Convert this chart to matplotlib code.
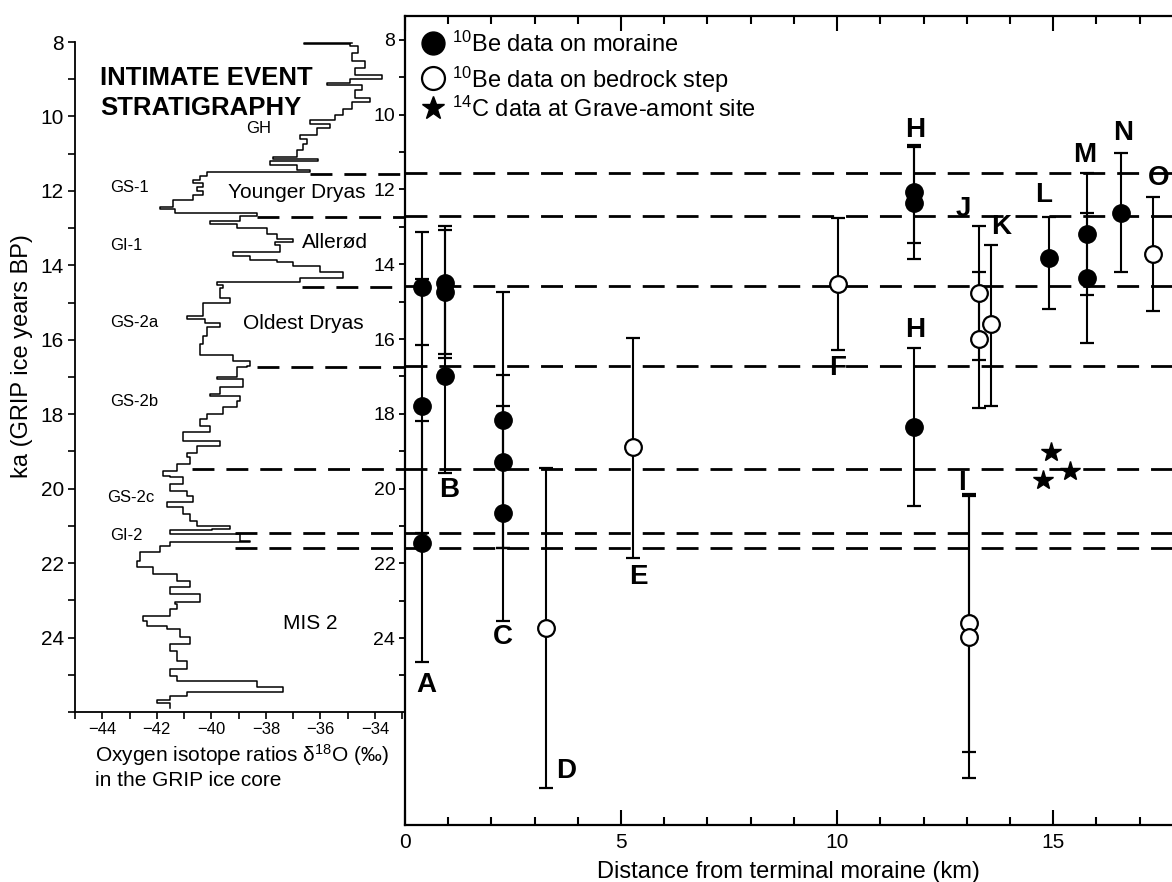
import matplotlib
matplotlib.use('Agg')
import matplotlib.pyplot as plt
from matplotlib.ticker import FixedLocator, FixedFormatter

plt.rcParams['font.family'] = ['Liberation Sans', 'DejaVu Sans']
plt.rcParams['mathtext.fontset'] = 'custom'
plt.rcParams['mathtext.rm'] = 'Liberation Sans'
plt.rcParams['mathtext.it'] = 'Liberation Sans:italic'
plt.rcParams['mathtext.bf'] = 'Liberation Sans:bold'

# ---------------- GRIP d18O record (age ka, d18O permil) ----------------
grip_age = [8.03, 8.06, 8.1, 8.3, 8.5, 8.7, 8.9, 9.0, 9.1, 9.15, 9.3, 9.5, 9.6, 9.8,
            9.95, 10.1, 10.2, 10.3, 10.5, 10.6, 10.75, 10.9, 11.1, 11.15, 11.2, 11.3,
            11.43, 11.48, 11.6, 11.7, 11.8, 11.9, 12.0, 12.1, 12.25, 12.42, 12.5, 12.6,
            12.67, 12.8, 12.9, 13.0, 13.17, 13.3, 13.36, 13.45, 13.63, 13.76, 13.85,
            13.9, 14.03, 14.17, 14.33, 14.46, 14.52, 14.6, 14.87, 15.0, 15.13, 15.37,
            15.45, 15.55, 15.65, 15.9, 16.12, 16.4, 16.58, 16.7, 16.74, 17.0, 17.05,
            17.28, 17.46, 17.5, 17.65, 17.8, 18.0, 18.13, 18.32, 18.48, 18.72, 18.86,
            19.03, 19.15, 19.34, 19.53, 19.66, 19.69, 19.87, 20.06, 20.2, 20.36, 20.5,
            20.68, 20.87, 21.0, 21.08, 21.12, 21.22, 21.4, 21.43, 21.53, 21.7, 21.94,
            22.1, 22.29, 22.48, 22.64, 22.83, 23.04, 23.1, 23.23, 23.42, 23.55, 23.68,
            23.76, 23.98, 24.17, 24.35, 24.62, 24.84, 25.02, 25.18, 25.32, 25.45, 25.56,
            25.69, 25.77, 25.9]
grip_d18o = [-34.85, -36.61, -34.93, -34.63, -34.85, -34.38, -34.74, -33.75, -34.93,
             -35.77, -34.49, -34.74, -34.19, -34.85, -35.18, -35.48, -36.39, -35.66,
             -36.14, -36.76, -36.50, -36.65, -36.87, -37.75, -36.10, -37.86, -36.87,
             -36.39, -40.16, -40.42, -40.68, -40.31, -40.53, -40.31, -40.68, -41.41,
             -41.89, -41.34, -38.33, -38.96, -40.05, -39.07, -37.97, -37.60, -37.01,
             -37.67, -37.49, -39.21, -38.59, -37.60, -37.01, -36.03, -35.18, -36.76,
             -39.80, -39.58, -39.69, -39.32, -40.31, -40.31, -40.90, -40.24, -39.69,
             -40.16, -40.31, -40.42, -39.21, -38.59, -38.70, -39.07, -39.80, -38.85,
             -39.69, -40.05, -38.96, -39.07, -39.58, -40.16, -40.42, -40.05, -41.04,
             -39.69, -40.53, -40.90, -40.79, -41.26, -41.78, -41.52, -41.04, -41.52,
             -40.90, -40.68, -41.63, -41.04, -40.79, -40.53, -39.32, -39.98, -41.52,
             -38.96, -38.59, -41.52, -41.89, -42.62, -42.73, -42.14, -41.26, -40.79,
             -41.52, -40.42, -41.34, -41.26, -41.52, -42.51, -42.36, -41.63, -41.15,
             -40.79, -41.52, -41.26, -40.90, -41.52, -41.26, -38.33, -37.38, -40.90,
             -41.52, -42.00, -41.52]

# event boundaries (ka) and where the dashed line starts in the left panel (permil)
event_ages = [11.55, 12.7, 14.57, 16.72, 19.47, 21.18, 21.6]
event_start = [-36.39, -38.33, -36.68, -38.33, -40.71, -39.14, -39.14]

# ---------------- 10Be on moraine (filled) ----------------
mor_x = [0.40, 0.40, 0.40, 0.93, 0.93, 0.93, 2.26, 2.26, 2.26,
         11.78, 11.78, 11.78, 14.9, 15.79, 15.79, 16.57]
mor_age = [14.6, 17.8, 21.45, 14.5, 14.75, 17.0, 18.16, 19.28, 20.65,
           12.06, 12.36, 18.35, 13.84, 13.19, 14.37, 12.62]
mor_err_young = [1.45, 3.4, 3.25, 1.53, 1.67, 2.58, 3.42, 2.32, 2.85,
                 1.25, 1.5, 2.12, 1.11, 1.64, 1.73, 1.6]
mor_err_old = [1.55, 3.4, 3.2, 1.9, 1.75, 2.58, 3.42, 2.32, 2.9,
               1.38, 1.5, 2.13, 1.36, 1.64, 1.73, 1.6]

# ---------------- 10Be on bedrock step (open) ----------------
bed_x = [3.26, 5.28, 10.02, 13.05, 13.05, 13.29, 13.29, 13.56, 17.32]
bed_age = [23.72, 18.88, 14.52, 23.6, 23.96, 14.77, 16.0, 15.59, 13.72]
bed_err_young = [4.27, 2.9, 1.75, 3.45, 3.75, 1.8, 1.8, 2.1, 1.52]
bed_err_old = [4.28, 2.97, 1.77, 3.44, 3.77, 1.8, 1.85, 2.2, 1.53]

# ---------------- 14C at Grave-amont site ----------------
c14_x = [14.95, 15.39, 14.77]
c14_age = [19.03, 19.52, 19.76]

site_names = ['A', 'B', 'C', 'D', 'E', 'F', 'H', 'H', 'I', 'J', 'K', 'L', 'M', 'N', 'O']

W, H = 1172, 882
fig = plt.figure(figsize=(W / 100, H / 100), dpi=100)

def px_axes(x0, y0, x1, y1):
    return [x0 / W, 1 - y1 / H, (x1 - x0) / W, (y1 - y0) / H]

axL = fig.add_axes(px_axes(75, 42, 405, 712))
axR = fig.add_axes(px_axes(405, 16, 1172, 825))
axL.set_facecolor('none')
axR.set_facecolor('none')

dash = (0, (7.9, 4.3))

# ---------------- left panel ----------------
axL.plot(grip_d18o, grip_age, color='black', lw=1.1, drawstyle='steps-post')
axL.set_xlim(-45, -32.9)
axL.set_ylim(26, 8)
for a, s in zip(event_ages, event_start):
    axL.plot([s, -32.9], [a, a], color='black', lw=2.0, linestyle=dash, clip_on=False)

axL.spines['top'].set_visible(False)
axL.spines['right'].set_visible(False)
for sp in ['left', 'bottom']:
    axL.spines[sp].set_linewidth(1.3)
axL.xaxis.set_major_locator(FixedLocator([-44, -42, -40, -38, -36, -34]))
axL.xaxis.set_minor_locator(FixedLocator([-45, -43, -41, -39, -37, -35, -33]))
yt = list(range(8, 27, 2))
axL.yaxis.set_major_locator(FixedLocator(yt))
axL.yaxis.set_major_formatter(FixedFormatter([str(v) if v <= 24 else '' for v in yt]))
axL.yaxis.set_minor_locator(FixedLocator(list(range(9, 26, 2))))
axL.tick_params(axis='both', which='both', direction='out', length=5, width=1.2)
axL.tick_params(axis='x', labelsize=12, pad=2)
axL.tick_params(axis='y', labelsize=15, pad=3)

axL.text(-44.08, 9.15, 'INTIMATE EVENT', fontsize=18.5, fontweight='bold', va='baseline')
axL.text(-44.08, 9.96, 'STRATIGRAPHY', fontsize=18.5, fontweight='bold', va='baseline')
small = [('GH', -38.26, 10.33, 'center'), ('GS-1', -43.72, 11.91, 'left'),
         ('GI-1', -43.72, 13.47, 'left'), ('GS-2a', -43.72, 15.53, 'left'),
         ('GS-2b', -43.72, 17.65, 'left'), ('GS-2c', -43.83, 20.25, 'left'),
         ('GI-2', -43.72, 21.27, 'left')]
for t, x, y, ha in small:
    axL.text(x, y, t, fontsize=12, ha=ha, va='center')
big = [('Younger Dryas', -39.40, 12.05), ('Allerød', -36.68, 13.39),
       ('Oldest Dryas', -38.85, 15.56), ('MIS 2', -37.38, 23.63)]
for t, x, y in big:
    axL.text(x, y, t, fontsize=15, ha='left', va='center')

fig.text(95 / W, 1 - 755 / H, r'Oxygen isotope ratios δ$^{18}$O (‰)', fontsize=15,
         ha='left', va='center')
fig.text(95 / W, 1 - 781 / H, 'in the GRIP ice core', fontsize=15, ha='left', va='center')
fig.text(22 / W, 1 - 356 / H, 'ka (GRIP ice years BP)', fontsize=17, rotation=90,
         ha='center', va='center')

# ---------------- right panel ----------------
axR.set_xlim(0, 17.75)
axR.set_ylim(29.0, 7.36)
for a in event_ages:
    axR.axhline(a, color='black', lw=2.0, linestyle=dash, zorder=1)

eb = dict(fmt='none', ecolor='black', elinewidth=1.5, capsize=5, capthick=1.6, zorder=2)
axR.errorbar(mor_x, mor_age, yerr=[mor_err_young, mor_err_old], **eb)
axR.errorbar(bed_x, bed_age, yerr=[bed_err_young, bed_err_old], **eb)
axR.plot(mor_x, mor_age, 'o', color='black', ms=12.5, zorder=3)
axR.plot(bed_x, bed_age, 'o', mfc='white', mec='black', mew=1.6, ms=12, zorder=3)
axR.plot(c14_x, c14_age, '*', color='black', ms=15, zorder=3)

label_pos = [(0.49, 25.25), (1.02, 20.03), (2.27, 23.96), (3.73, 27.55), (5.39, 22.36),
             (10.02, 16.77), (11.8, 10.4), (11.8, 15.75), (12.9, 19.85), (12.92, 12.52),
             (13.8, 13.0), (14.77, 12.14), (15.72, 11.07), (16.62, 10.49), (17.43, 11.69)]
for name, (x, y) in zip(site_names, label_pos):
    axR.text(x, y, name, fontsize=20, fontweight='bold', ha='center', va='center', zorder=4)

# legend
axR.plot([0.65], [8.08], 'o', color='black', ms=16.5, clip_on=False)
axR.plot([0.65], [9.02], 'o', mfc='white', mec='black', mew=1.6, ms=16.5, clip_on=False)
axR.plot([0.65], [9.82], '*', color='black', ms=17, clip_on=False)
axR.text(1.09, 8.12, r'$^{10}$Be data on moraine', fontsize=17, va='center')
axR.text(1.09, 9.06, r'$^{10}$Be data on bedrock step', fontsize=17, va='center')
axR.text(1.09, 9.86, r'$^{14}$C data at Grave-amont site', fontsize=17, va='center')

axR.spines['right'].set_visible(False)
for sp in ['left', 'top', 'bottom']:
    axR.spines[sp].set_linewidth(1.6)
axR.xaxis.set_major_locator(FixedLocator([0, 5, 10, 15]))
axR.xaxis.set_minor_locator(FixedLocator([v for v in range(1, 18) if v % 5]))
axR.tick_params(axis='x', which='both', direction='in', top=True, bottom=True,
                width=1.5, labelsize=15, pad=6)
axR.tick_params(axis='x', which='major', length=11)
axR.tick_params(axis='x', which='minor', length=6)
axR.yaxis.set_major_locator(FixedLocator(list(range(8, 25, 2))))
axR.yaxis.set_minor_locator(FixedLocator(list(range(9, 26, 2))))
axR.tick_params(axis='y', which='both', direction='out', length=4, width=1.3,
                labelsize=14, pad=3)
axR.set_xlabel('Distance from terminal moraine (km)', fontsize=17, labelpad=6)

fig.savefig('out.png', dpi=100)
